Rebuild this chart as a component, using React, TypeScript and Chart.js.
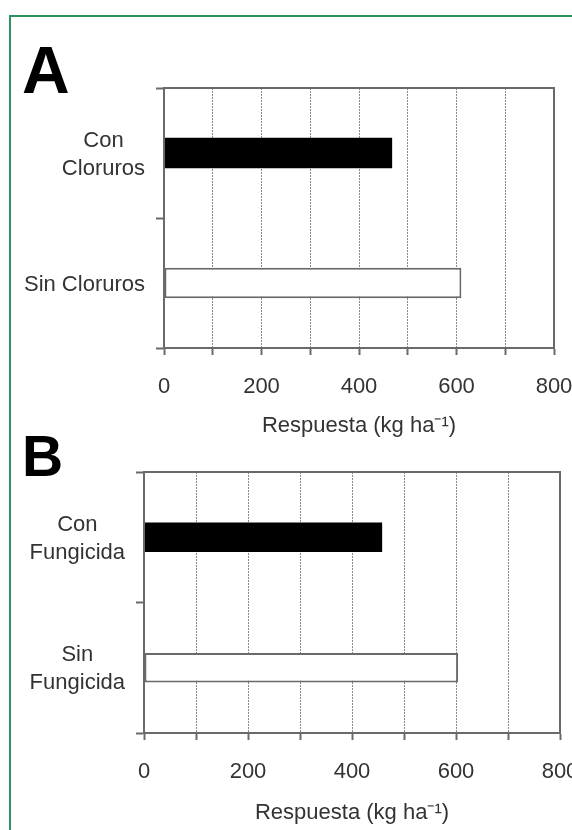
import React, { useEffect, useRef } from "react";
import { Chart, registerables } from "chart.js";

Chart.register(...registerables);

// Panel A: chloride treatments
const catsA: string[][] = [["Con", "Cloruros"], ["Sin Cloruros"]];
const valuesA = [468, 610];

// Panel B: fungicide treatments
const catsB: string[][] = [["Con", "Fungicida"], ["Sin", "Fungicida"]];
const valuesB = [458, 604];

// Shared axis settings
const xMin = 0;
const xMax = 800;
const xStep = 100;
const xTickLabels = [0, 200, 400, 600, 800];
const axisTitle = "Respuesta (kg ha\u207B\u00B9)";

const barFill = ["#000000", "#ffffff"];
const barEdge = ["#000000", "#6a6a6a"];

const FONT = "'Liberation Sans', Arial, Helvetica, sans-serif";
const TEXT = "#333333";
const LINE = "#6a6a6a";
const LABEL_SIZE = 22;
const LABEL_LINE = 28;
const LABEL_GAP = 19;
const LABEL_NUDGE = 1.5;

const CANVAS_W = 620;

type Box = { left: number; right: number; top: number; bottom: number };

// Category labels: each block right-aligned to the axis, lines centred inside it
const categoryLabels = {
  id: "categoryLabels",
  afterDraw(chart: any) {
    const ctx = chart.ctx;
    const yScale = chart.scales.y;
    const area = chart.chartArea;
    ctx.save();
    ctx.font = `${LABEL_SIZE}px ${FONT}`;
    ctx.fillStyle = TEXT;
    ctx.textAlign = "center";
    ctx.textBaseline = "middle";
    (chart.data.labels as string[][]).forEach((lines, i) => {
      const w = Math.max(...lines.map((l) => ctx.measureText(l).width));
      const cx = area.left - LABEL_GAP - w / 2;
      const cy = yScale.getPixelForValue(i) + LABEL_NUDGE;
      lines.forEach((l, j) => {
        ctx.fillText(l, cx, cy + (j - (lines.length - 1) / 2) * LABEL_LINE);
      });
    });
    ctx.restore();
  },
};

// Solid frame round the plot area
const plotFrame = {
  id: "plotFrame",
  afterDatasetsDraw(chart: any) {
    const { ctx, chartArea: a } = chart;
    ctx.save();
    ctx.strokeStyle = LINE;
    ctx.lineWidth = 2;
    ctx.strokeRect(a.left, a.top, a.right - a.left, a.bottom - a.top);
    ctx.restore();
  },
};

function Panel(props: {
  labels: string[][];
  values: number[];
  top: number;
  height: number;
  plot: Box;
  barPct: number;
}) {
  const ref = useRef<HTMLCanvasElement | null>(null);
  const { labels, values, top, height, plot, barPct } = props;

  useEffect(() => {
    if (!ref.current) return;
    const chart = new Chart(ref.current, {
      type: "bar",
      data: {
        labels,
        datasets: [
          {
            data: values,
            backgroundColor: barFill,
            borderColor: barEdge,
            borderWidth: [0, 2],
            borderSkipped: false,
            categoryPercentage: 1,
            barPercentage: barPct,
          },
        ],
      },
      options: {
        indexAxis: "y",
        responsive: false,
        animation: false,
        devicePixelRatio: 1,
        layout: {
          padding: { left: 0, top: plot.top, right: CANVAS_W - plot.right, bottom: 0 },
        },
        plugins: {
          legend: { display: false },
          tooltip: { enabled: false },
          title: { display: false },
        },
        scales: {
          x: {
            type: "linear",
            position: "bottom",
            min: xMin,
            max: xMax,
            afterFit: (s: any) => {
              s.height = height - plot.bottom;
            },
            ticks: {
              stepSize: xStep,
              autoSkip: false,
              maxRotation: 0,
              padding: 19,
              color: TEXT,
              font: { family: FONT, size: LABEL_SIZE },
              callback: (v: any) => (xTickLabels.includes(Number(v)) ? String(v) : ""),
            },
            grid: {
              color: "#8a8a8a",
              lineWidth: 1,
              drawTicks: true,
              tickLength: 7,
              tickColor: LINE,
              tickWidth: 2,
            },
            border: { display: true, color: LINE, width: 2, dash: [2, 1] },
            title: {
              display: true,
              text: axisTitle,
              color: TEXT,
              padding: 0,
              font: { family: FONT, size: LABEL_SIZE },
            },
          },
          y: {
            type: "category",
            position: "left",
            afterFit: (s: any) => {
              s.width = plot.left;
            },
            ticks: { display: false },
            grid: {
              offset: true,
              drawOnChartArea: false,
              drawTicks: true,
              tickLength: 8,
              tickColor: LINE,
              tickWidth: 2,
            },
            border: { display: true, color: LINE, width: 2 },
          },
        },
      },
      plugins: [categoryLabels, plotFrame],
    });
    return () => chart.destroy();
  }, [labels, values, height, plot, barPct]);

  return (
    <canvas
      ref={ref}
      width={CANVAS_W}
      height={height}
      style={{ position: "absolute", left: 0, top, width: CANVAS_W, height }}
    />
  );
}

const plotA: Box = { left: 164, right: 554, top: 88, bottom: 348 };
const plotB: Box = { left: 144, right: 560, top: 32, bottom: 293 };

const letterStyle: React.CSSProperties = {
  position: "absolute",
  fontFamily: FONT,
  fontWeight: 700,
  lineHeight: 1,
  color: "#000",
};

export default function App() {
  return (
    <div
      style={{
        position: "absolute",
        left: 0,
        top: 0,
        width: 572,
        height: 830,
        overflow: "hidden",
        background: "#ffffff",
      }}
    >
      <div
        style={{
          position: "absolute",
          left: 9,
          top: 15,
          width: 700,
          height: 900,
          borderTop: "2px solid #2e9164",
          borderLeft: "2px solid #2e9164",
        }}
      />
      <div style={{ ...letterStyle, left: 22, top: 37, fontSize: 66 }}>A</div>
      <div style={{ ...letterStyle, left: 22, top: 428, fontSize: 57 }}>B</div>
      <Panel labels={catsA} values={valuesA} top={0} height={439} plot={plotA} barPct={0.235} />
      <Panel labels={catsB} values={valuesB} top={440} height={386} plot={plotB} barPct={0.226} />
    </div>
  );
}
